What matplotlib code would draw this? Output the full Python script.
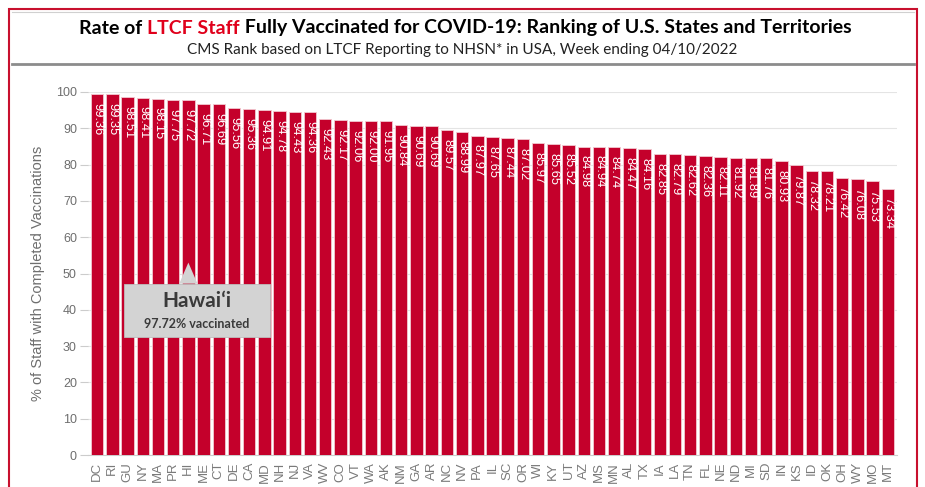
import matplotlib
matplotlib.use("Agg")
import matplotlib.pyplot as plt
from matplotlib.patches import Rectangle, Polygon

states = ["DC", "RI", "GU", "NY", "MA", "PR", "HI", "ME", "CT", "DE", "CA", "MD", "NH", "NJ",
          "VA", "WV", "CO", "VT", "WA", "AK", "NM", "GA", "AR", "NC", "NV", "PA", "IL", "SC",
          "OR", "WI", "KY", "UT", "AZ", "MS", "MN", "AL", "TX", "IA", "LA", "TN", "FL", "NE",
          "ND", "MI", "SD", "IN", "KS", "ID", "OK", "OH", "WY", "MO", "MT"]
values = [99.36, 99.35, 98.51, 98.41, 98.15, 97.75, 97.72, 96.71, 96.69, 95.56, 95.36, 94.91,
          94.78, 94.43, 94.36, 92.43, 92.17, 92.06, 92.00, 91.95, 90.84, 90.69, 90.69, 89.57,
          88.99, 87.97, 87.65, 87.44, 87.02, 85.97, 85.65, 85.52, 84.98, 84.94, 84.74, 84.47,
          84.16, 82.85, 82.79, 82.62, 82.36, 82.11, 81.92, 81.89, 81.76, 80.93, 79.87, 78.32,
          78.21, 76.42, 76.08, 75.53, 73.34]
yticks = [0, 10, 20, 30, 40, 50, 60, 70, 80, 90, 100]
highlight_state = "HI"
highlight_name = "Hawaiʻi"

BAR = "#C4002B"
W, H = 925, 487
fig = plt.figure(figsize=(W / 100, H / 100), dpi=100)

def fx(px):
    return px / W

def fy(py):
    return 1 - py / H

# outer frame
fig.patches.append(Rectangle((fx(9), fy(520)), fx(908), fy(9) - fy(520), transform=fig.transFigure,
                             fill=False, edgecolor="#C8102E", linewidth=1.5, zorder=0))
# title box lines
fig.lines.append(plt.Line2D([fx(12), fx(914)], [fy(64), fy(64)], transform=fig.transFigure,
                            color="#8C8C8C", linewidth=2))
fig.lines.append(plt.Line2D([fx(12), fx(914)], [fy(12), fy(12)], transform=fig.transFigure,
                            color="#D0D0D0", linewidth=0.8))

ax = fig.add_axes([fx(88), fy(455), fx(897) - fx(88), fy(92) - fy(455)])
x = list(range(len(states)))
ax.bar(x, values, width=0.82, color=BAR, edgecolor="#F2C9D0", linewidth=0.6, zorder=3)
for xi, v in zip(x, values):
    ax.text(xi + 0.03, v - 2.4, f"{v:.2f}", rotation=270, ha="center", va="top", color="white",
            fontsize=9.3, family="Liberation Sans", zorder=4)

ax.set_xlim(-0.6, len(states) - 0.4)
ax.set_ylim(0, 100)
ax.set_yticks(yticks)
ax.set_yticklabels([str(t) for t in yticks], color="#6E6E6E", fontsize=9, family="Liberation Sans")
ax.set_xticks(x)
ax.set_xticklabels(states, rotation=90, color="#7A7A7A", fontsize=9.5, family="Liberation Sans")
ax.tick_params(axis="x", length=0, pad=5)
ax.tick_params(axis="y", length=6, color="#CCCCCC", pad=2)
ax.grid(axis="y", color="#E4E4E4", linewidth=0.8, zorder=0)
for s in ["top", "right", "left"]:
    ax.spines[s].set_visible(False)
ax.spines["bottom"].set_color("#CCCCCC")
ax.set_ylabel("% of Staff with Completed Vaccinations", color="#6E6E6E", fontsize=10.5,
              family="Liberation Sans", labelpad=8)

# callout
hi = states.index(highlight_state)
hv = values[hi]
bx0, bx1, by0, by1 = 1.8, 11.35, 32.5, 47.2
ax.add_patch(Rectangle((bx0, by0), bx1 - bx0, by1 - by0, facecolor="#D3D3D3", edgecolor="#BDBDBD",
                       linewidth=0.6, zorder=6))
ax.add_patch(Polygon([[hi - 0.6, by1], [hi, by1 + 5.8], [hi + 0.6, by1]], closed=True,
                     facecolor="#D3D3D3", edgecolor="none", zorder=7))
cx = (bx0 + bx1) / 2
ax.text(cx, 42.3, highlight_name, ha="center", va="center", fontsize=15, fontweight="bold",
        color="#3A3A3A", family="Lato", zorder=8)
ax.text(cx, 36.0, f"{hv:.2f}% vaccinated", ha="center", va="center", fontsize=9,
        fontweight="bold", color="#3A3A3A", family="Lato", zorder=8)

# title with colored part
fig.canvas.draw()
r = fig.canvas.get_renderer()
parts = [("Rate of ", "black"), ("LTCF Staff", "#E0001B"),
         (" Fully Vaccinated for COVID-19: Ranking of U.S. States and Territories", "black")]
tobjs = [fig.text(0, fy(28), p, color=c, fontsize=14, fontweight="bold", family="Lato",
                  ha="left", va="center") for p, c in parts]
widths = [t.get_window_extent(r).width for t in tobjs]
total = sum(widths)
start = (W / 2) - total / 2 + 3
for t, w in zip(tobjs, widths):
    t.set_x(start / W)
    start += w
fig.text(0.5, fy(50), "CMS Rank based on LTCF Reporting to NHSN* in USA, Week ending 04/10/2022",
         ha="center", va="center", fontsize=11, family="Lato", color="#222222")

fig.savefig("out.png", dpi=100)
